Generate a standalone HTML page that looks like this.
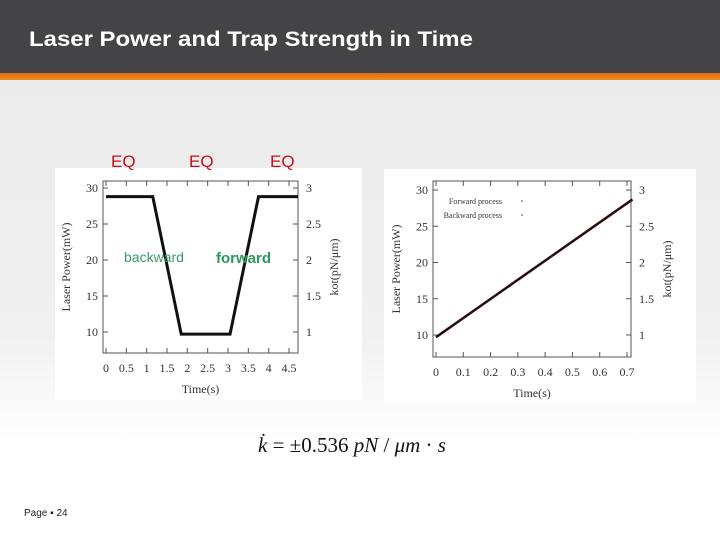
<!DOCTYPE html>
<html><head><meta charset="utf-8"><style>
body{margin:0;width:720px;height:540px;overflow:hidden;font-family:"Liberation Sans",sans-serif;background:#fff;position:relative}
.abs{position:absolute}
</style></head><body>
<div class="abs" style="left:0;top:80px;width:720px;height:360px;background:linear-gradient(#ebebeb,#f0f0f0 70%,#fff)"></div>
<div class="abs" style="left:0;top:0;width:720px;height:73px;background:#444447"></div>
<div class="abs" style="left:0;top:73px;width:720px;height:7px;background:linear-gradient(#e06a10,#f0901e)"></div>
<div class="abs" style="left:29px;top:28px;color:#fff;font-size:21px;font-weight:bold;transform-origin:0 0;transform:scaleX(1.14);white-space:nowrap">Laser Power and Trap Strength in Time</div>
<div class="abs" style="left:24px;top:508px;color:#222;font-size:10px;">Page ▪ 24</div>
<div class="abs" style="left:258px;top:433px;font-family:'Liberation Serif',serif;font-size:21px;color:#111"><i>k̇</i> = ±0.536 <i>pN</i> / <i>μm</i> · <i>s</i></div>
<svg class="abs" style="left:0;top:0" width="720" height="540" id="svg">
<rect x="55" y="168" width="307" height="232" fill="#fff"/>
<rect x="384" y="169" width="312" height="235" fill="#fff"/>
<g font-family="Liberation Sans" font-size="17" fill="#c8101a">
<text x="111" y="167">EQ</text>
<text x="189" y="167">EQ</text>
<text x="270" y="167">EQ</text>
</g>
</svg>
<script>
const leftT=[0,1.15,1.85,3.05,3.75,4.72];
const leftP=[28.8,28.8,9.7,9.7,28.8,28.8];
const leftXTicks=[0,0.5,1,1.5,2,2.5,3,3.5,4,4.5];
const yTicks=[10,15,20,25,30];
const kTicks=[1,1.5,2,2.5,3];
const rightT=[0,0.72];
const rightP=[9.7,28.7];
const rightXTicks=[0,0.1,0.2,0.3,0.4,0.5,0.6,0.7];
const NS="http://www.w3.org/2000/svg";
const svg=document.getElementById('svg');
function el(t,a,txt){const e=document.createElementNS(NS,t);for(const k in a)e.setAttribute(k,a[k]);if(txt!==undefined)e.textContent=txt;svg.appendChild(e);return e;}
function chart(c){
 const sx=v=>c.x0+(v-c.xa)*(c.x1-c.x0)/(c.xb-c.xa);
 const sy=v=>c.y0+(v-c.ya)*(c.y1-c.y0)/(c.yb-c.ya);
 const f=el('rect',{x:c.L,y:c.T,width:c.R-c.L,height:c.B-c.T,fill:'none',stroke:'#555','stroke-width':1});
 
 c.xt.forEach(v=>{const x=sx(v);
  const a=el('line',{x1:x,x2:x,y1:c.B,y2:c.B-5,stroke:'#555'});
  const b=el('line',{x1:x,x2:x,y1:c.T,y2:c.T+5,stroke:'#555'});
  const t=el('text',{x:x,y:c.B+19,'text-anchor':'middle','font-family':'Liberation Serif','font-size':12,fill:'#333'},String(v));});
 c.yt.forEach(v=>{const y=sy(v);
  const a=el('line',{x1:c.L,x2:c.L+5,y1:y,y2:y,stroke:'#555'});
  const t=el('text',{x:c.L-5,y:y+4,'text-anchor':'end','font-family':'Liberation Serif','font-size':12,fill:'#333'},String(v));});
 c.kt.forEach((v,i)=>{const y=sy(yTicks[i]);
  const a=el('line',{x1:c.R,x2:c.R-5,y1:y,y2:y,stroke:'#555'});
  const t=el('text',{x:c.R+8,y:y+4,'font-family':'Liberation Serif','font-size':12,fill:'#333'},String(v));});
 const pts=c.t.map((v,i)=>sx(v)+','+sy(c.v[i])).join(' ');
 const l=el('polyline',{points:pts,fill:'none',stroke:c.col,'stroke-width':c.w});
 const xt=el('text',{x:(c.L+c.R)/2,y:c.B+40,'text-anchor':'middle','font-family':'Liberation Serif','font-size':12,fill:'#333'},'Time(s)');
 const cy=(c.T+c.B)/2;
 const yt=el('text',{x:c.L-33,y:cy,'text-anchor':'middle','font-family':'Liberation Serif','font-size':12,fill:'#333',transform:`rotate(-90 ${c.L-33} ${cy})`},'Laser Power(mW)');
 const kx=c.R+40;
 const kt=el('text',{x:kx,y:cy,'text-anchor':'middle','font-family':'Liberation Serif','font-size':12,fill:'#333',transform:`rotate(-90 ${kx} ${cy})`},'kot(pN/μm)');
}
chart({p:'left',L:103,R:298,T:181,B:353,x0:106,x1:289,xa:0,xb:4.5,y0:332,y1:188,ya:10,yb:30,xt:leftXTicks,yt:yTicks,kt:kTicks,t:leftT,v:leftP,col:'#111',w:3});
chart({p:'right',L:433,R:631,T:181,B:357,x0:436,x1:627,xa:0,xb:0.7,y0:335,y1:190,ya:10,yb:30,xt:rightXTicks,yt:yTicks,kt:kTicks,t:rightT,v:rightP,col:'#2a0c0c',w:2.5});
const lg=[['Forward process',204],['Backward process',218]];
lg.forEach(([s,y])=>{const t=el('text',{x:502,y:y,'text-anchor':'end','font-family':'Liberation Serif','font-size':8,fill:'#333'},s);
const d=el('circle',{cx:522,cy:y-3,r:0.8,fill:'#444'});});
const b=el('text',{x:124,y:262,'font-family':'Liberation Sans','font-size':14,fill:'#3a9a6a'},'backward');
const fw=el('text',{x:216,y:263,'font-family':'Liberation Sans','font-size':15,'font-weight':'bold',fill:'#2a9a5a'},'forward');
</script>
</body></html>
